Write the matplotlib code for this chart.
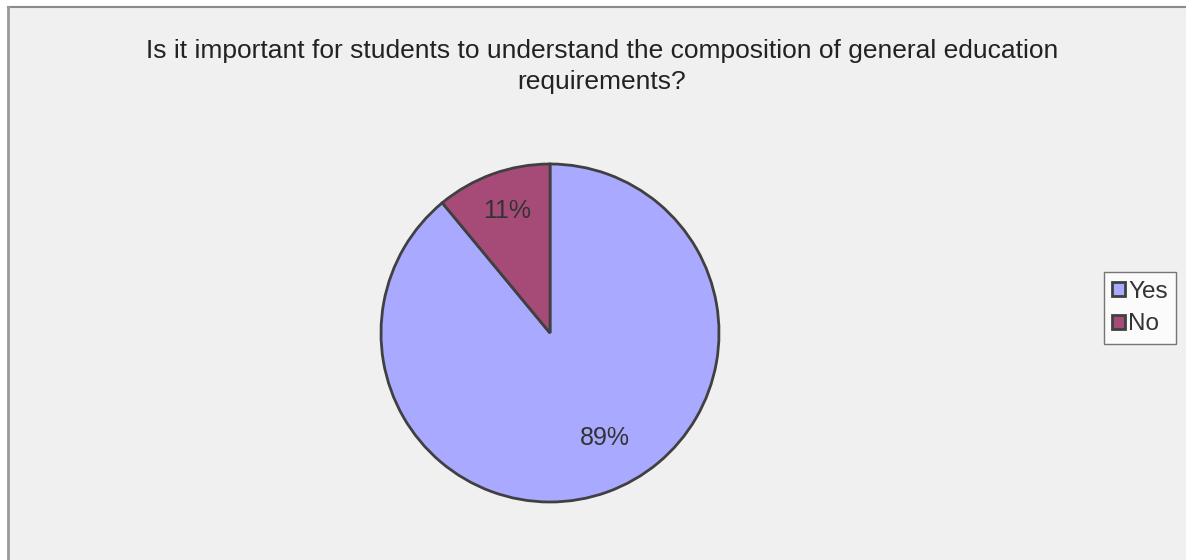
import matplotlib
matplotlib.use("Agg")
import matplotlib.pyplot as plt
from matplotlib.lines import Line2D
from matplotlib.patches import Patch

labels = ["Yes", "No"]
values = [89, 11]
colors = ["#A9A9FF", "#A64B78"]
title = "Is it important for students to understand the composition of general education\nrequirements?"

plt.rcParams['font.family'] = ['Liberation Sans', 'DejaVu Sans']

W, H = 1186, 560
fig = plt.figure(figsize=(W / 100, H / 100), dpi=100)
fig.patch.set_facecolor("white")

# grey panel with border on top and left
bg = plt.Rectangle((8 / W, 0), 1 - 8 / W, 1 - 7 / H, transform=fig.transFigure,
                   facecolor="#F0F0F0", edgecolor="none", zorder=0)
fig.add_artist(bg)
fig.add_artist(Line2D([8 / W, 1], [1 - 7 / H, 1 - 7 / H], transform=fig.transFigure,
                      color="#8a8a8a", lw=1.5))
fig.add_artist(Line2D([8 / W, 8 / W], [0, 1 - 7 / H], transform=fig.transFigure,
                      color="#9a9a9a", lw=2))

cx, cy, r = 550, 333, 169
ax = fig.add_axes([(cx - r) / W, (H - cy - r) / H, 2 * r / W, 2 * r / H])
ax.set_facecolor("none")
wedges, texts, autotexts = ax.pie(
    values, colors=colors, startangle=90, counterclock=False,
    autopct=lambda p: f"{p:.0f}%", pctdistance=0.72,
    wedgeprops=dict(edgecolor="#404040", linewidth=2),
    textprops=dict(fontsize=18, color="#333333"))
ax.set_xlim(-1.0, 1.0)
ax.set_ylim(-1.0, 1.0)
ax.set_aspect("equal")
autotexts[0].set_position((0.325, -0.62))
autotexts[1].set_position((-0.254, 0.72))

fig.text(602 / W, 1 - 66.5 / H, title, ha="center", va="center", fontsize=19,
         color="#222222", linespacing=1.42)

handles = [Patch(facecolor=c, edgecolor="#404040", linewidth=2) for c in colors]
leg = fig.legend(handles, labels, loc="center", bbox_to_anchor=(1140 / W, 1 - 308 / H),
                 frameon=True, fontsize=17.5, handlelength=0.55, handleheight=0.55,
                 handletextpad=0.12, borderpad=0.35, labelspacing=0.45,
                 fancybox=False, borderaxespad=0)
leg.get_frame().set_edgecolor("#555555")
leg.get_frame().set_facecolor("white")
leg.get_frame().set_linewidth(1)
for t in leg.get_texts():
    t.set_color("#333333")

fig.savefig("out.png", dpi=100, facecolor=fig.get_facecolor())
